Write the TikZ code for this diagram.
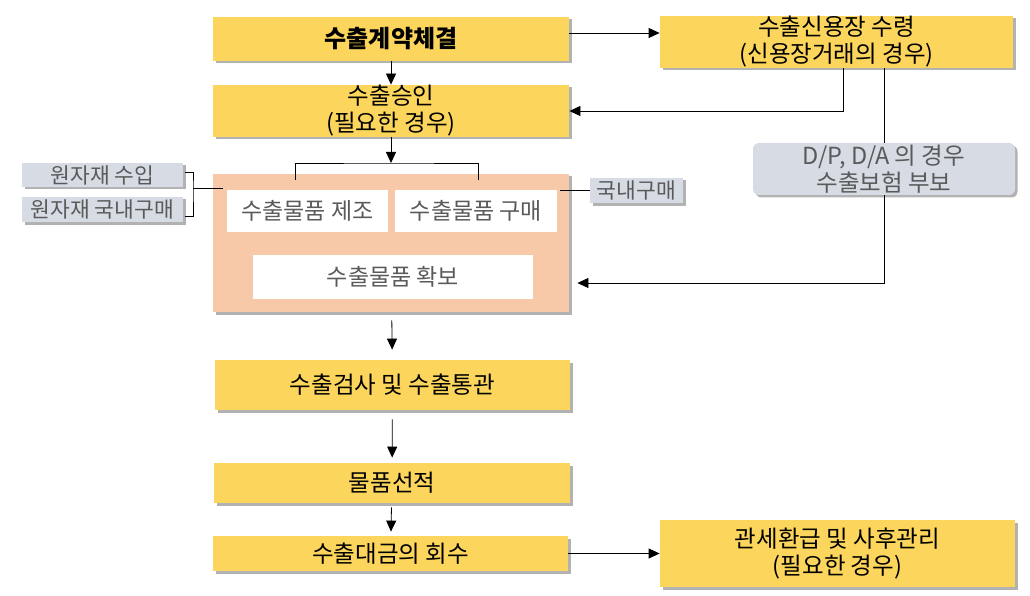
\documentclass[tikz,border=0pt]{standalone}
\usepackage{fontspec}
\setmainfont{Noto Sans CJK KR}
\usetikzlibrary{arrows.meta, shadows}

\definecolor{stepyellow}{HTML}{FCD55C}
\definecolor{prepfill}{HTML}{F8C9A8}
\definecolor{notefill}{HTML}{D6DBE4}
\definecolor{notetext}{HTML}{5A5A5A}

\begin{document}
\begin{tikzpicture}[
        x=1pt,
        y=-1pt,
        >={Triangle[length=11pt,width=10pt]},
        line width=0.8pt,
        every node/.style={font=\fontsize{23.5}{27}\selectfont, align=center, inner sep=0pt},
        boxshadow/.style={drop shadow={shadow xshift=2.5pt, shadow yshift=-2.5pt, fill=black!55, opacity=.55}},
        stepbox/.style={fill=stepyellow, boxshadow},
        prepbox/.style={fill=prepfill, boxshadow},
        subbox/.style={fill=white, text=notetext, font=\fontsize{23}{27}\selectfont},
        notebox/.style={fill=notefill, text=notetext, boxshadow, font=\fontsize{21.5}{24}\selectfont}
    ]
    \useasboundingbox (0,0) rectangle (1030,596);

    % main flow
    \node[stepbox, minimum width=356, minimum height=44, font=\bfseries\fontsize{24}{27}\selectfont] (contract) at (391,39) {수출계약체결};
    \node[stepbox, minimum width=356, minimum height=52] (approval) at (391,111) {수출승인\\(필요한 경우)};
    \node[prepbox, minimum width=356, minimum height=138] (prep) at (391,243) {};
    \node[subbox, minimum width=161, minimum height=42] (make) at (307.5,211) {수출물품 제조};
    \node[subbox, minimum width=162, minimum height=42] (buy) at (476,211) {수출물품 구매};
    \node[subbox, minimum width=280, minimum height=44] (secure) at (393,277) {수출물품 확보};
    \node[stepbox, minimum width=355, minimum height=50] (inspect) at (392.5,385) {수출검사 및 수출통관};
    \node[stepbox, minimum width=356, minimum height=40] (ship) at (392,483) {물품선적};
    \node[stepbox, minimum width=355, minimum height=35] (payment) at (390.5,553.5) {수출대금의 회수};

    % right column
    \node[stepbox, minimum width=353, minimum height=52] (lc) at (836.5,42) {수출신용장 수령\\(신용장거래의 경우)};
    \node[notebox, rounded corners=6pt, minimum width=262, minimum height=52, font=\fontsize{23.5}{27}\selectfont] (dpda) at (884,169) {D/P, D/A 의 경우\\수출보험 부보};
    \node[stepbox, minimum width=355, minimum height=67] (refund) at (837.5,553.5) {관세환급 및 사후관리\\(필요한 경우)};

    % side notes
    \node[notebox, minimum width=161, minimum height=24] (rawimp) at (102.5,175) {원자재 수입};
    \node[notebox, minimum width=161, minimum height=25] (rawdom) at (102.5,209.5) {원자재 국내구매};
    \node[notebox, minimum width=93, minimum height=25] (dombuy) at (636.5,190.5) {국내구매};

    \coordinate (splitTop) at (391,163);
    \coordinate (splitL) at (295,180);
    \coordinate (splitR) at (478,180);
    \coordinate (rawjoin) at (193,188);

    \draw[->] ([yshift=6pt]contract.east) -- ([yshift=6pt]contract.east -| lc.west);
    \draw[->] (contract) -- (approval);
    \draw[->] ([xshift=6.5pt]lc.south) |- (approval.east);
    \draw (lc.south -| dpda.north) -- (dpda.north);
    \draw[->] (dpda.south) |- ([xshift=8pt,yshift=-40pt]prep.east);

    \draw[->] (approval.south) -- (splitTop);
    \draw (splitL) |- (splitTop) -| (splitR);

    \draw ([xshift=2pt,yshift=3pt]rawimp.east) -| (rawjoin) |- ([xshift=2pt,yshift=-7pt]rawdom.east);
    \draw (rawjoin) -- ([xshift=10pt]prep.west |- rawjoin);
    \draw (dombuy.west) -- ++(-30,0);

    \draw[->, shorten <=8pt, shorten >=10pt] (prep) -- (inspect);
    \draw[->, shorten <=9pt, shorten >=5pt] (inspect) -- (ship);
    \draw[->, shorten <=4pt, shorten >=4pt] (ship) -- (payment);
    \draw[->] (payment) -- (refund);
\end{tikzpicture}
\end{document}
